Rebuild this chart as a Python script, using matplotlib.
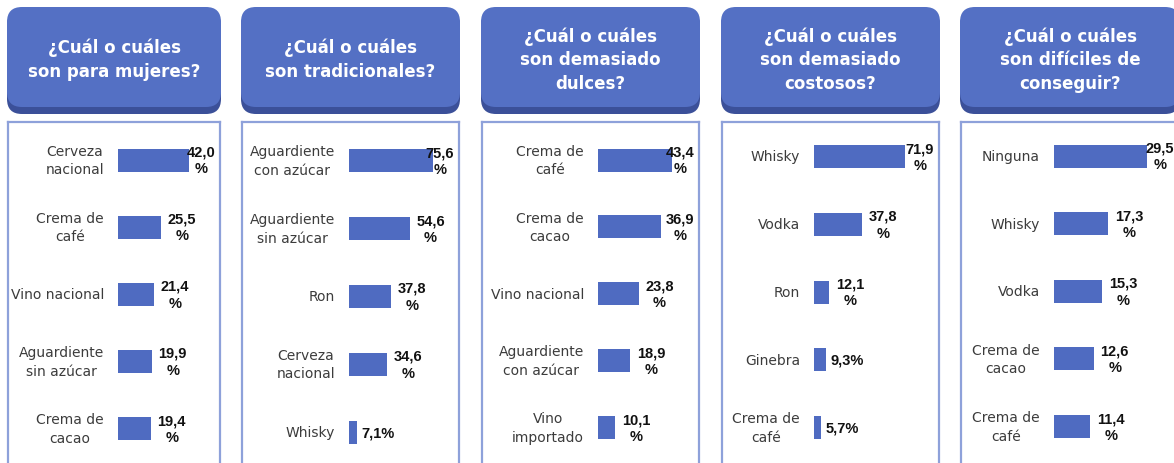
import matplotlib.pyplot as plt
from matplotlib.patches import FancyBboxPatch
from matplotlib.transforms import ScaledTranslation

# --- data ---
questions = [
    "¿Cuál o cuáles\nson para mujeres?",
    "¿Cuál o cuáles\nson tradicionales?",
    "¿Cuál o cuáles\nson demasiado\ndulces?",
    "¿Cuál o cuáles\nson demasiado\ncostosos?",
    "¿Cuál o cuáles\nson difíciles de\nconseguir?",
]

mujeres_labels = ["Cerveza\nnacional", "Crema de\ncafé", "Vino nacional",
                  "Aguardiente\nsin azúcar", "Crema de\ncacao"]
mujeres_values = [42.0, 25.5, 21.4, 19.9, 19.4]

tradicionales_labels = ["Aguardiente\ncon azúcar", "Aguardiente\nsin azúcar", "Ron",
                        "Cerveza\nnacional", "Whisky"]
tradicionales_values = [75.6, 54.6, 37.8, 34.6, 7.1]

dulces_labels = ["Crema de\ncafé", "Crema de\ncacao", "Vino nacional",
                 "Aguardiente\ncon azúcar", "Vino\nimportado"]
dulces_values = [43.4, 36.9, 23.8, 18.9, 10.1]

costosos_labels = ["Whisky", "Vodka", "Ron", "Ginebra", "Crema de\ncafé"]
costosos_values = [71.9, 37.8, 12.1, 9.3, 5.7]

dificiles_labels = ["Ninguna", "Whisky", "Vodka", "Crema de\ncacao", "Crema de\ncafé"]
dificiles_values = [29.5, 17.3, 15.3, 12.6, 11.4]

panel_labels = [mujeres_labels, tradicionales_labels, dulces_labels,
                costosos_labels, dificiles_labels]
panel_values = [mujeres_values, tradicionales_values, dulces_values,
                costosos_values, dificiles_values]

# --- layout (pixels) ---
W, H = 1174, 464
box_left = [8, 242, 482, 722, 961]
box_right = [220, 459, 699, 939, 1179]
box_top = 123
bar_x0 = [118, 349, 598, 814, 1054]
px_per_pct = [1.69, 1.11, 1.705, 1.266, 3.15]
first_center = [161, 161.5, 161, 157.5, 157]
last_center = [429.5, 433, 428.5, 428.5, 427.5]
bar_px = 23

bar_color = "#4F6BC1"
head_color = "#5470C4"
shadow_color = "#3B5099"
line_color = "#8EA1DA"
label_color = "#3C3C3C"

fig = plt.figure(figsize=(W / 100, H / 100), dpi=100)

# overlay for the rounded headers
over = fig.add_axes([0, 0, 1, 1])
over.set_xlim(0, W)
over.set_ylim(H, 0)
over.axis("off")

for i, q in enumerate(questions):
    x0, x1 = box_left[i] - 1, box_right[i] + 1
    shadow = FancyBboxPatch((x0, 12), x1 - x0, 103,
                            boxstyle="round,pad=0,rounding_size=15",
                            fc=shadow_color, ec="none")
    head = FancyBboxPatch((x0, 8), x1 - x0, 100,
                          boxstyle="round,pad=0,rounding_size=15",
                          fc=head_color, ec="none")
    over.add_patch(shadow)
    over.add_patch(head)
    over.text((x0 + x1) / 2, 60, q, color="white", fontsize=12, fontweight="bold",
              ha="center", va="center", multialignment="center", linespacing=1.4)

for i in range(5):
    labels = panel_labels[i]
    values = panel_values[i]
    scale = px_per_pct[i]
    ax = fig.add_axes([box_left[i] / W, 0, (box_right[i] - box_left[i]) / W,
                       (H - box_top) / H])
    ax.set_xlim(-(bar_x0[i] - box_left[i]) / scale, (box_right[i] - bar_x0[i]) / scale)
    step = (last_center[i] - first_center[i]) / (len(values) - 1)
    ax.set_ylim((H - first_center[i]) / step, (box_top - first_center[i]) / step)
    ys = list(range(len(values)))
    ax.barh(ys, values, height=bar_px / step, color=bar_color, edgecolor="none")

    for s in ["left", "right", "top"]:
        ax.spines[s].set_color(line_color)
        ax.spines[s].set_linewidth(1.6)
    ax.spines["bottom"].set_visible(False)
    ax.set_xticks([])
    ax.set_yticks([])

    shift = ScaledTranslation(-14 / 100, 0, fig.dpi_scale_trans)
    xmax = ax.get_xlim()[1]
    for y, lab, v in zip(ys, labels, values):
        ax.text(0, y, lab, ha="right", va="center", multialignment="center",
                fontsize=10, color=label_color, linespacing=1.4,
                transform=ax.transData + shift, clip_on=True)
        if v < 10:
            txt = f"{v:.1f}".replace(".", ",") + "%"
        else:
            txt = f"{v:.1f}".replace(".", ",") + "\n%"
        xt = min(v + 21 / scale, xmax - 19 / scale)
        ax.text(xt, y, txt, ha="center", va="center", multialignment="center",
                fontsize=10.5, fontweight="bold", color="#111111",
                family="Liberation Sans", linespacing=1.25, clip_on=True)

fig.savefig("out.png", dpi=100)
